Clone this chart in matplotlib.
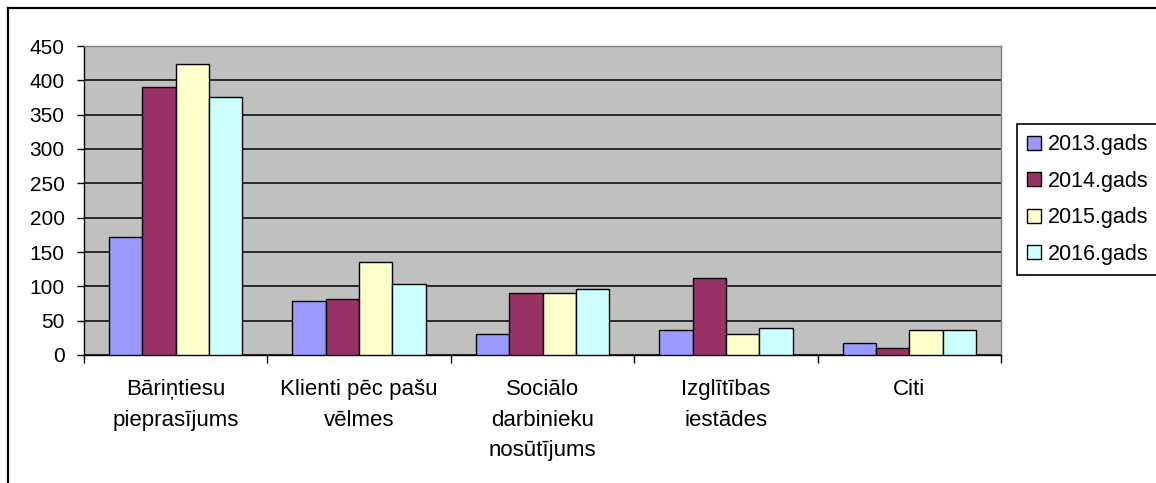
import numpy as np
import matplotlib.pyplot as plt
from matplotlib.lines import Line2D

plt.rcParams['font.family'] = ['Liberation Sans', 'DejaVu Sans']

categories = ['Bāriņtiesu\npieprasījums', 'Klienti pēc pašu\nvēlmes', 'Sociālo\ndarbinieku\nnosūtījums',
              'Izglītības\niestādes', 'Citi']
years = ['2013.gads', '2014.gads', '2015.gads', '2016.gads']
v2013 = [172, 79, 31, 37, 18]
v2014 = [390, 81, 91, 112, 10]
v2015 = [424, 135, 91, 31, 36]
v2016 = [376, 104, 96, 39, 36]
colors = ['#9999FF', '#993366', '#FFFFCC', '#CCFFFF']

series = [v2013, v2014, v2015, v2016]

fig = plt.figure(figsize=(11.56, 4.83), dpi=100)
ax = fig.add_axes([84 / 1156, 1 - 355 / 483, (1001 - 84) / 1156, (355 - 46) / 483])
ax.set_facecolor('#C0C0C0')

x = np.arange(len(categories))
w = 1 / 5.5
for i, vals in enumerate(series):
    ax.bar(x + (i - 1.5) * w, vals, width=w, color=colors[i], edgecolor='black',
           linewidth=1.0, label=years[i], zorder=3)

ax.set_xlim(-0.5, len(categories) - 0.5)
ax.set_ylim(0, 450)
ax.set_yticks(range(0, 451, 50))
ax.yaxis.grid(True, color='black', linewidth=1.1, zorder=1)
ax.set_axisbelow(True)

ax.set_xticks(x)
ax.set_xticklabels(categories, linespacing=1.62, va='top')
ax.set_xticks(np.arange(-0.5, len(categories), 1), minor=True)
ax.tick_params(axis='x', which='major', length=0, pad=17, labelsize=16)
ax.tick_params(axis='x', which='minor', length=6, width=1.0, direction='out')
ax.tick_params(axis='y', length=5, width=1.0, direction='out', pad=9, labelsize=15)

for side in ['top', 'right']:
    ax.spines[side].set_color('#808080')
    ax.spines[side].set_linewidth(1.0)
for side in ['left', 'bottom']:
    ax.spines[side].set_color('black')
    ax.spines[side].set_linewidth(1.0)

leg = fig.legend(loc='upper left', bbox_to_anchor=(1017 / 1156, 1 - 124 / 483),
                 fontsize=15.5, frameon=True, fancybox=False, edgecolor='black',
                 framealpha=1, handlelength=0.65, handleheight=0.65, handletextpad=0.3,
                 labelspacing=0.72, borderpad=0.48, borderaxespad=0)
leg.get_frame().set_linewidth(1.2)
for h in leg.legend_handles:
    h.set_linewidth(1.0)

# outer chart border
fig.add_artist(Line2D([7.5 / 1156, 7.5 / 1156], [0, 1 - 7.5 / 483], color='black', linewidth=1.6,
                      transform=fig.transFigure))
fig.add_artist(Line2D([7.5 / 1156, 1], [1 - 7.5 / 483, 1 - 7.5 / 483], color='black', linewidth=1.6,
                      transform=fig.transFigure))

fig.savefig('out.png', dpi=100)
